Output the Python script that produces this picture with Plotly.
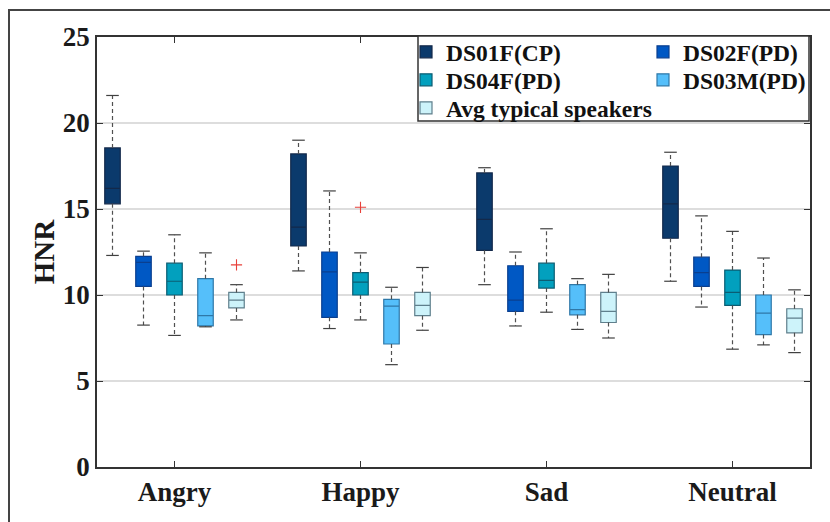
import plotly.graph_objects as go

# ---------------- data ----------------
categories = ["Angry", "Happy", "Sad", "Neutral"]
series_names = ["DS01F(CP)", "DS02F(PD)", "DS04F(PD)", "DS03M(PD)", "Avg typical speakers"]

ds01f_low = [12.3, 11.4, 10.6, 10.8]
ds01f_q1 = [15.3, 12.85, 12.6, 13.3]
ds01f_med = [16.2, 13.95, 14.4, 15.3]
ds01f_q3 = [18.55, 18.2, 17.1, 17.5]
ds01f_high = [21.6, 19.0, 17.4, 18.3]

ds02f_low = [8.25, 8.05, 8.2, 9.3]
ds02f_q1 = [10.5, 8.7, 9.05, 10.5]
ds02f_med = [11.9, 11.35, 9.7, 11.3]
ds02f_q3 = [12.25, 12.5, 11.7, 12.2]
ds02f_high = [12.55, 16.05, 12.5, 14.6]

ds04f_low = [7.65, 8.55, 9.0, 6.85]
ds04f_q1 = [10.0, 10.0, 10.4, 9.4]
ds04f_med = [10.8, 10.75, 10.85, 10.15]
ds04f_q3 = [11.85, 11.3, 11.85, 11.45]
ds04f_high = [13.5, 12.45, 13.85, 13.7]

ds03m_low = [8.15, 5.95, 8.0, 7.1]
ds03m_q1 = [8.2, 7.15, 8.85, 7.7]
ds03m_med = [8.8, 9.35, 9.15, 8.95]
ds03m_q3 = [10.95, 9.75, 10.6, 10.0]
ds03m_high = [12.45, 10.45, 10.95, 12.15]

avg_low = [8.55, 7.95, 7.5, 6.65]
avg_q1 = [9.25, 8.8, 8.4, 7.8]
avg_med = [9.7, 9.4, 9.05, 8.65]
avg_q3 = [10.15, 10.15, 10.15, 9.2]
avg_high = [10.6, 11.6, 11.2, 10.3]

# outliers: (category index, series index, value)
outlier_cat = [0, 1]
outlier_series = [4, 2]
outlier_value = [11.75, 15.1]

# ---------------- styling ----------------
fill_colors = ["#0B3A6C", "#0058C4", "#02A0BE", "#55BFFA", "#CDF3FA"]
edge_colors = ["#13294a", "#0a3f8f", "#0b5d73", "#2f78a8", "#5f7f8c"]
# legend layout: (column x pixel, row centre y pixel) for each series
legend_px = [(406, 52), (643, 52), (406, 80), (643, 80), (406, 108)]
FONT = "Liberation Serif, Times New Roman, serif"

stats = [
    (ds01f_low, ds01f_q1, ds01f_med, ds01f_q3, ds01f_high),
    (ds02f_low, ds02f_q1, ds02f_med, ds02f_q3, ds02f_high),
    (ds04f_low, ds04f_q1, ds04f_med, ds04f_q3, ds04f_high),
    (ds03m_low, ds03m_q1, ds03m_med, ds03m_q3, ds03m_high),
    (avg_low, avg_q1, avg_med, avg_q3, avg_high),
]

GROUP_GAP = 6
n_series = len(series_names)


def pos(g, i):
    return GROUP_GAP * g + (i - (n_series - 1) / 2)


L, R, T, B = 97, 20, 37, 55
W, H = 830, 522
pw, ph = W - L - R, H - T - B


def px_x(px):
    return (px - L) / pw


def px_y(py):
    return 1 - (py - T) / ph


fig = go.Figure()

# dashed whiskers and caps
for i, (lo, q1, med, q3, hi) in enumerate(stats):
    wx, wy = [], []
    for g in range(len(categories)):
        x = pos(g, i)
        wx += [x, x, None, x, x, None]
        wy += [q3[g], hi[g], None, q1[g], lo[g], None]
    fig.add_trace(go.Scatter(
        x=wx, y=wy, mode="lines", showlegend=False, hoverinfo="skip",
        line=dict(color="#505050", width=1.2, dash="4px,3px"),
    ))
    cx = [pos(g, i) for g in range(len(categories))]
    fig.add_trace(go.Scatter(
        x=cx + cx, y=list(hi) + list(lo), mode="markers", showlegend=False,
        hoverinfo="skip",
        marker=dict(symbol="line-ew", size=9, line=dict(color="#404040", width=1.2)),
    ))

# outliers
fig.add_trace(go.Scatter(
    x=[pos(g, s) for g, s in zip(outlier_cat, outlier_series)],
    y=outlier_value, mode="markers", showlegend=False, hoverinfo="skip",
    marker=dict(symbol="cross-thin", size=8, line=dict(color="#e8403a", width=1.1)),
))

legend_font = dict(family=FONT, size=23.5, weight=700, color="#111111")
legend_layouts = {}

# boxes
for i, (lo, q1, med, q3, hi) in enumerate(stats):
    lname = "legend" if i == 0 else f"legend{i + 1}"
    lx, ly = legend_px[i]
    legend_layouts[lname] = dict(
        orientation="v", x=px_x(lx), y=px_y(ly), xanchor="left", yanchor="middle",
        bgcolor="rgba(0,0,0,0)", borderwidth=0, font=legend_font,
    )
    fig.add_trace(go.Box(
        name=series_names[i],
        x=[pos(g, i) for g in range(len(categories))],
        q1=q1, median=med, q3=q3, lowerfence=q1, upperfence=q3,
        width=0.5, whiskerwidth=0, boxpoints=False,
        fillcolor=fill_colors[i],
        line=dict(color=edge_colors[i], width=1.2),
        legend=lname,
    ))

fig.update_layout(
    width=W, height=H,
    margin=dict(l=L, r=R, t=T, b=B),
    paper_bgcolor="white", plot_bgcolor="white",
    boxmode="overlay",
    font=dict(family=FONT, color="#1a1a1a"),
    xaxis=dict(
        range=[-2.5, GROUP_GAP * (len(categories) - 1) + 2.5],
        tickvals=[GROUP_GAP * g for g in range(len(categories))],
        ticktext=categories,
        showgrid=False, zeroline=False,
        showline=True, linecolor="#333333", linewidth=1.5, mirror="ticks",
        ticks="inside", ticklen=6, tickcolor="#333333", tickwidth=1,
        tickfont=dict(family=FONT, size=27, weight="bold", color="#1a1a1a"),
    ),
    yaxis=dict(
        range=[0, 25], dtick=5,
        showgrid=True, gridcolor="#dddddd", gridwidth=1.5, zeroline=False,
        showline=True, linecolor="#333333", linewidth=1.5, mirror="ticks",
        ticks="inside", ticklen=6, tickcolor="#333333", tickwidth=1,
        tickfont=dict(family=FONT, size=27, weight="bold", color="#1a1a1a"),
        title=dict(text="HNR", standoff=0,
                   font=dict(family=FONT, size=29, weight="bold", color="#1a1a1a")),
    ),
    **legend_layouts,
)

# legend frame (white panel behind the legend entries)
fig.add_shape(
    type="rect", xref="paper", yref="paper",
    x0=px_x(418), x1=px_x(809), y0=px_y(121), y1=px_y(36),
    line=dict(color="#333333", width=1.5), fillcolor="white", layer="above",
)

# outer figure frame
fig.add_shape(
    type="rect", xref="paper", yref="paper",
    x0=px_x(9), x1=px_x(W + 20), y0=px_y(H + 20), y1=px_y(10),
    line=dict(color="#444444", width=2), fillcolor="rgba(0,0,0,0)", layer="below",
)

fig.write_html("out.html")
